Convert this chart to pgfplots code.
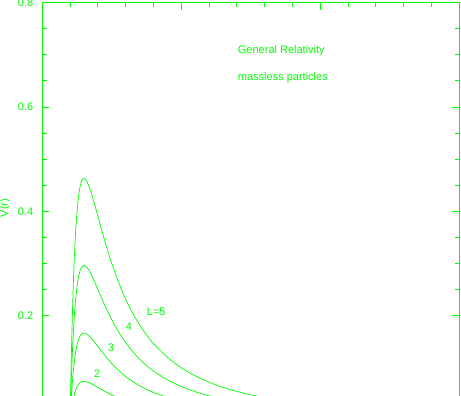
\documentclass[border=0pt]{standalone}
\usepackage{fontspec}
\setmainfont{Liberation Sans}
\usepackage{pgfplots}
\pgfplotsset{compat=1.18}
\definecolor{grn}{RGB}{0,255,0}
\begin{document}
\begin{tikzpicture}
\begin{axis}[
  at={(0,0)}, anchor=south west,
  scale only axis, width=417pt, height=401.6pt,
  xmin=0, xmax=30, ymin=0.03, ymax=0.8,
  axis line style={grn, line width=1pt},
  every tick/.style={grn, line width=1pt},
  major tick length=7pt, minor tick length=4.5pt,
  tick align=inside,
  xtick={0,10,20,30}, minor x tick num=4, xticklabels={}, xtick pos=right,
  ytick={0.2,0.4,0.6,0.8}, minor y tick num=3, ytick pos=both, yticklabel pos=left,
  /pgf/number format/fixed, /pgf/number format/precision=1,
  /pgf/number format/assume math mode=true,
  yticklabel style={font=\fontsize{11}{13}\selectfont, text=grn, xshift=-5.5pt},
  ylabel={V(r)},
  ylabel style={font=\fontsize{11}{13}\selectfont, text=grn, at={(axis description cs:-0.0895,0.489)}, anchor=center},
  clip=true,
]
\addplot[grn, line width=0.7pt, smooth, mark=none] coordinates {(2,0) (2.05,0.01161) (2.1,0.02160) (2.2,0.03757) (2.3,0.04931) (2.4,0.05787) (2.5,0.06400) (2.6,0.06828) (2.7,0.07113) (2.8,0.07289) (2.9,0.07380) (3.0,0.07407) (3.1,0.07385) (3.2,0.07324) (3.4,0.07124) (3.6,0.06859) (3.8,0.06561) (4.0,0.06250) (4.25,0.05862) (4.5,0.05487) (4.75,0.05132) (5,0.04800) (5.5,0.04207) (6,0.03704) (6.5,0.03277)};
\addplot[grn, line width=0.7pt, smooth, mark=none] coordinates {(2,0) (2.05,0.02612) (2.1,0.04859) (2.2,0.08453) (2.3,0.11095) (2.4,0.13021) (2.5,0.14400) (2.6,0.15362) (2.7,0.16004) (2.8,0.16400) (2.9,0.16606) (3.0,0.16667) (3.1,0.16616) (3.2,0.16480) (3.4,0.16029) (3.6,0.15432) (3.8,0.14762) (4.0,0.14063) (4.25,0.13190) (4.5,0.12345) (4.75,0.11547) (5,0.10800) (5.5,0.09466) (6,0.08333) (6.5,0.07374) (7,0.06560) (7.5,0.05867) (8,0.05273) (9,0.04321) (10,0.03600)};
\addplot[grn, line width=0.7pt, smooth, mark=none] coordinates {(2,0) (2.05,0.04643) (2.1,0.08638) (2.2,0.15027) (2.3,0.19725) (2.4,0.23149) (2.5,0.25600) (2.6,0.27310) (2.7,0.28451) (2.8,0.29155) (2.9,0.29522) (3.0,0.29630) (3.1,0.29539) (3.2,0.29298) (3.4,0.28496) (3.6,0.27435) (3.8,0.26243) (4.0,0.25000) (4.25,0.23448) (4.5,0.21947) (4.75,0.20528) (5,0.19200) (5.5,0.16829) (6,0.14815) (6.5,0.13109) (7,0.11662) (7.5,0.10430) (8,0.09375) (9,0.07682) (10,0.06400) (11,0.05410) (12,0.04630) (13,0.04005)};
\addplot[grn, line width=0.7pt, smooth, mark=none] coordinates {(2,0) (2.05,0.07255) (2.1,0.13498) (2.2,0.23480) (2.3,0.30820) (2.4,0.36170) (2.5,0.40000) (2.6,0.42673) (2.7,0.44455) (2.8,0.45555) (2.9,0.46128) (3.0,0.46296) (3.1,0.46155) (3.2,0.45778) (3.4,0.44525) (3.6,0.42868) (3.8,0.41005) (4.0,0.39063) (4.25,0.36638) (4.5,0.34293) (4.75,0.32075) (5,0.30000) (5.5,0.26295) (6,0.23148) (6.5,0.20483) (7,0.18223) (7.5,0.16298) (8,0.14648) (9,0.12003) (10,0.10000) (11,0.08453) (12,0.07235) (13,0.06258) (14,0.05468) (15,0.04815) (16,0.04273) (17,0.03819)};
\begin{scope}[every node/.style={text=grn, font=\fontsize{11}{13}\selectfont, anchor=base west, inner sep=0pt}]
\node at (axis cs:14.06,0.7030) {General Relativity};
\node at (axis cs:14.06,0.6504) {massless particles};
\node at (axis cs:7.51,0.1998) {L=5};
\node at (axis cs:6.0,0.171) {4};
\node at (axis cs:4.71,0.132) {3};
\node at (axis cs:3.72,0.081) {2};
\end{scope}
\end{axis}
\pgfresetboundingbox
\path[use as bounding box] (-42.3pt,9.28pt) rectangle (418.7pt,404.3pt);
\end{tikzpicture}
\end{document}
